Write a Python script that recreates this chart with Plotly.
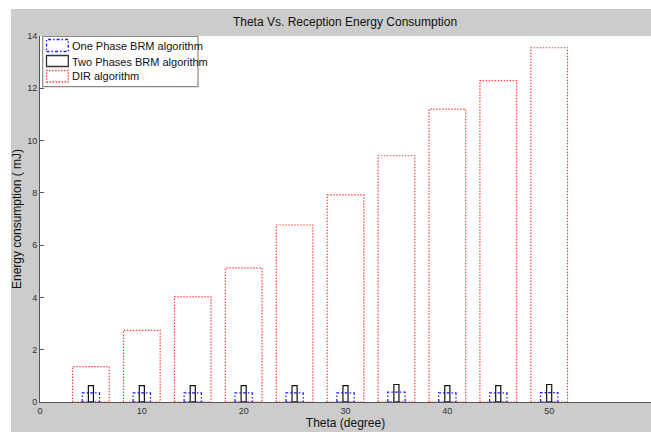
import plotly.graph_objects as go

# ---- data ----
theta = [5, 10, 15, 20, 25, 30, 35, 40, 45, 50]
one_phase = [0.35, 0.35, 0.35, 0.35, 0.35, 0.35, 0.38, 0.35, 0.35, 0.36]
two_phases = [0.63, 0.63, 0.63, 0.63, 0.63, 0.63, 0.67, 0.63, 0.63, 0.67]
dir_alg = [1.35, 2.74, 4.02, 5.13, 6.77, 7.92, 9.42, 11.2, 12.29, 13.55]
series_names = ["One Phase BRM algorithm", "Two Phases BRM algorithm", "DIR algorithm"]
x_ticks = [0, 10, 20, 30, 40, 50, 60]
y_ticks = [0, 2, 4, 6, 8, 10, 12, 14]

# ---- layout geometry (page pixels; body margin removed below) ----
W, H = 651, 432
PL, PR, PT, PB = 40, 651, 36, 402          # plot area in page pixels
L, R, T, B = PL, W - PR, PT, H - PB
PW, PH = W - L - R, H - T - B


def px2x(px):
    return (px - PL) / PW


def py2y(py):
    return (PB - py) / PH


def rect_path(xs, ys, width):
    X, Y = [], []
    for xc, v in zip(xs, ys):
        x0, x1 = xc - width / 2, xc + width / 2
        X += [x0, x0, x1, x1, x0, None]
        Y += [0, v, v, 0, 0, None]
    return X, Y


RED = "rgba(255,20,20,0.8)"
BLUE = "#1a1aff"
BLACK = "#111111"
RED_DASH = "1.5px,1.5px"
BLUE_DASH = "3px,2px,1.5px,2px"

fig = go.Figure()
styles = [
    (dir_alg, 3.6, RED, RED_DASH, 1.2),
    (one_phase, 1.7, BLUE, BLUE_DASH, 1.2),
    (two_phases, 0.5, BLACK, "solid", 1.2),
]
for vals, wdt, col, dash, lw in styles:
    X, Y = rect_path(theta, vals, wdt)
    fig.add_trace(go.Scatter(x=X, y=Y, mode="lines", showlegend=False,
                             line=dict(color=col, dash=dash, width=lw),
                             hoverinfo="skip"))

shapes = [
    # white strips outside the gray figure area
    dict(type="rect", xref="paper", yref="paper", x0=-1, x1=2,
         y0=py2y(9), y1=py2y(-60), fillcolor="white", line=dict(width=0), layer="below"),
    dict(type="rect", xref="paper", yref="paper", x0=px2x(-60), x1=px2x(11),
         y0=-1, y1=2, fillcolor="white", line=dict(width=0), layer="below"),
    # legend box
    dict(type="rect", xref="paper", yref="paper", x0=px2x(42.7), x1=px2x(198),
         y0=py2y(86.7), y1=py2y(36.5), fillcolor="white",
         line=dict(color="#8a8a8a", width=1.2)),
]
sw = [
    (39.5, 51.5, BLUE, BLUE_DASH),
    (55.5, 66.5, "#333333", "solid"),
    (70.5, 82.0, RED, RED_DASH),
]
for y0, y1, col, dash in sw:
    shapes.append(dict(type="rect", xref="paper", yref="paper",
                       x0=px2x(46.5), x1=px2x(68.3), y0=py2y(y1), y1=py2y(y0),
                       line=dict(color=col, dash=dash, width=1.3), fillcolor="white"))

FONT = "Liberation Sans, Arial"
annotations = []
for name, yc in zip(series_names, [46, 61.5, 76.5]):
    annotations.append(dict(text=name, xref="paper", yref="paper", x=px2x(70),
                            y=py2y(yc), xanchor="left", yanchor="middle", showarrow=False,
                            font=dict(family=FONT, size=11, color="#111")))

fig.update_layout(
    width=W, height=H,
    margin=dict(l=L, r=R, t=T, b=B, autoexpand=False),
    paper_bgcolor="#cccccc",
    plot_bgcolor="white",
    showlegend=False,
    title=dict(text="Theta Vs. Reception Energy Consumption", x=345 / W,
               xanchor="center", y=1 - 22 / H, yanchor="middle",
               font=dict(family=FONT, size=12, color="#111")),
    xaxis=dict(range=[0, 60], tickvals=x_ticks, ticks="", showgrid=False, zeroline=False,
               showline=True, linecolor="#555", linewidth=1, automargin=False,
               tickfont=dict(family=FONT, size=9, color="#333"),
               title=dict(text="Theta (degree)", standoff=2,
                          font=dict(family=FONT, size=12, color="#111"))),
    yaxis=dict(range=[0, 14], tickvals=y_ticks, ticks="inside", ticklen=4, tickcolor="#555",
               showgrid=False, zeroline=False, showline=True, linecolor="#555", linewidth=1,
               automargin=False,
               tickfont=dict(family=FONT, size=9, color="#333"),
               title=dict(text="Energy consumption ( mJ)", standoff=2,
                          font=dict(family=FONT, size=12, color="#111"))),
    shapes=shapes,
    annotations=annotations,
)

fig.write_html("out.html", config={"displayModeBar": False},
               post_script="document.body.style.margin='0';document.body.style.overflow='hidden';")
